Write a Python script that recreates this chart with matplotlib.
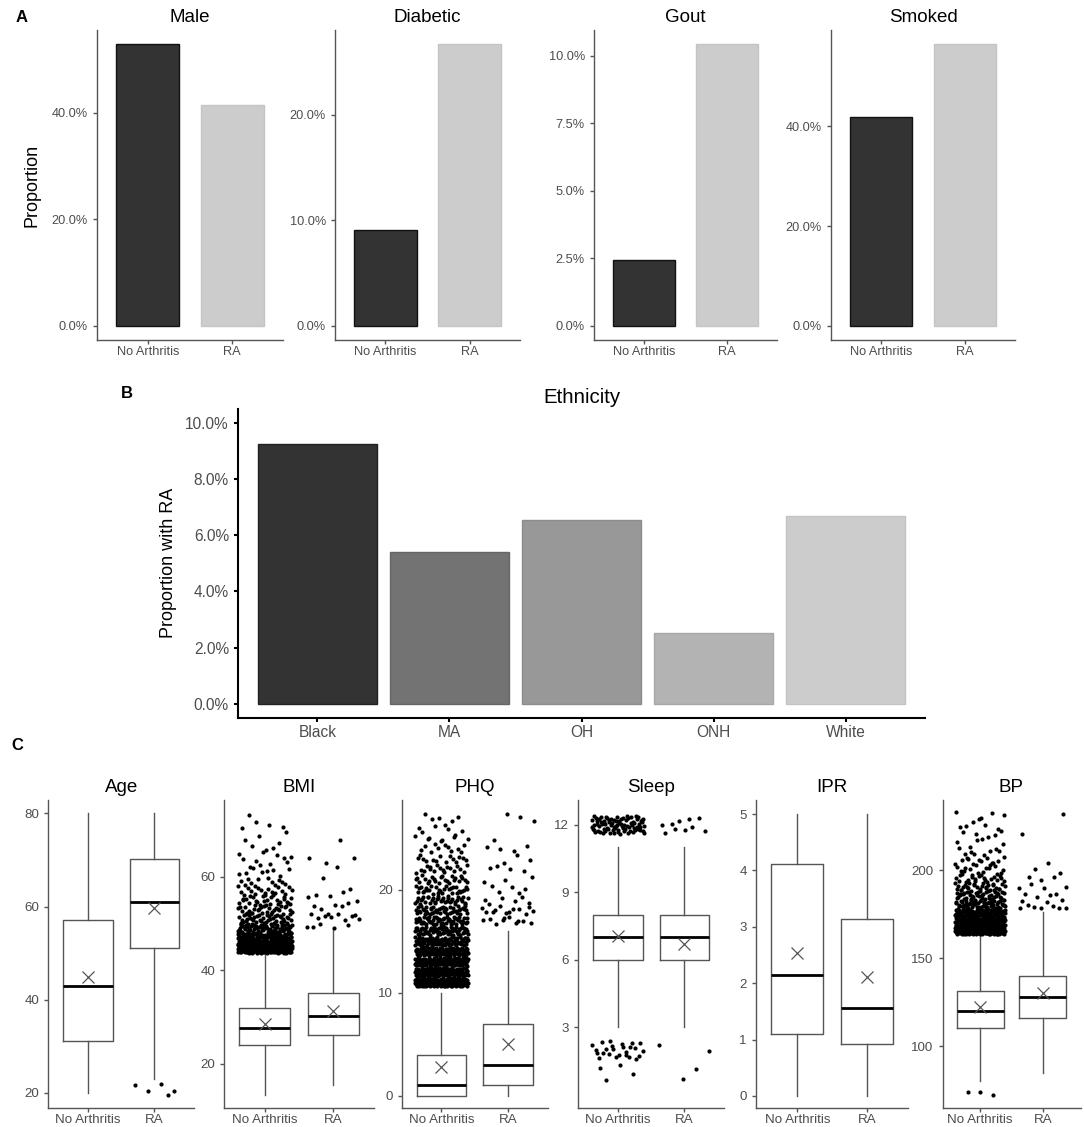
import numpy as np
import matplotlib
matplotlib.use("Agg")
from matplotlib import pyplot as plt

plt.rcParams['font.family'] = ['Liberation Sans', 'DejaVu Sans']

# ---- data: panel A (percent) ----
groups = ["No Arthritis", "RA"]
a_titles = ["Male", "Diabetic", "Gout", "Smoked"]
male = [52.9, 41.5]
diabetic = [9.07, 26.7]
gout = [2.45, 10.43]
smoked = [41.8, 56.5]
a_ticks = [[0, 20, 40], [0, 10, 20], [0, 2.5, 5, 7.5, 10], [0, 20, 40]]

# ---- data: panel B ----
ethnicity = ["Black", "MA", "OH", "ONH", "White"]
prop_ra = [9.24, 5.40, 6.53, 2.52, 6.68]

# ---- data: panel C box summaries (whislo, q1, med, q3, whishi, mean) ----
c_titles = ["Age", "BMI", "PHQ", "Sleep", "IPR", "BP"]
age_na = [20, 31.1, 43.0, 57.1, 80, 44.8]
age_ra = [23, 51.0, 61.0, 70.2, 80, 59.6]
bmi_na = [13.4, 24.1, 27.6, 31.9, 43.6, 28.6]
bmi_ra = [15.4, 26.1, 30.2, 35.1, 48.6, 31.3]
phq_na = [0, 0, 1, 4, 10, 2.8]
phq_ra = [0, 1, 3, 7, 16, 5.0]
sleep_na = [3, 6, 7, 8, 11, 7.04]
sleep_ra = [3, 6, 7, 8, 11, 6.71]
ipr_na = [0, 1.10, 2.14, 4.12, 5, 2.54]
ipr_ra = [0, 0.92, 1.56, 3.14, 5, 2.11]
bp_na = [80.3, 110.1, 120.1, 131.4, 163.3, 122.3]
bp_ra = [84.5, 116.1, 128.0, 140.0, 176.0, 129.9]

# outliers
age_ra_out = [19.5, 21.6, 21.9, 20.3, 20.3]
bmi_na_out_edges = [43.7, 46, 48, 50, 52, 54, 56, 58, 60, 62, 64, 66, 68, 70, 72, 74]
bmi_na_out_counts = [200, 120, 70, 40, 30, 25, 18, 12, 8, 7, 5, 4, 2, 4, 1]
bmi_ra_out = [67.8, 62.9, 63.9, 63.9, 62.0, 59.7, 57.3, 56.2, 56.8, 55.9, 54.9, 55.7,
              54.0, 53.2, 54.4, 53.8, 53.8, 52.0, 51.8, 52.0, 52.0, 51.6, 51.6, 51.1,
              50.7, 51.3, 50.9, 49.3, 49.1, 50.0, 49.7, 49.2]
phq_na_levels = list(range(11, 28))
phq_na_counts = [150, 130, 115, 100, 85, 70, 55, 45, 38, 30, 24, 18, 14, 11, 8, 6, 5]
phq_ra_levels = list(range(17, 28))
phq_ra_counts = [10, 12, 6, 5, 3, 4, 3, 4, 1, 0, 3]
sleep_levels = [1, 2, 12]
sleep_na_counts = [4, 25, 85]
sleep_ra_counts = [2, 2, 10]
bp_na_out_edges = [163.5, 168, 173, 178, 183, 188, 193, 198, 203, 208, 213, 218, 223, 228, 234]
bp_na_out_counts = [170, 130, 90, 55, 40, 30, 22, 14, 12, 8, 5, 5, 5, 5]
bp_na_low = [74.0, 74.0, 72.2]
bp_ra_out = [231.6, 220.3, 204.2, 200.4, 198.5, 196.2, 195.8, 194.3, 190.5, 189.9, 189.9,
             192.0, 186.4, 186.4, 185.8, 184.5, 183.0, 182.6, 182.0, 179.1, 178.2, 180.1,
             179.5, 178.2, 178.2, 178.2]

W, H = 1084, 1127
fig = plt.figure(figsize=(W / 100, H / 100), dpi=100)

AXGREY = '#555555'
TXTGREY = '#4D4D4D'


def px_axes(left, top, right, bottom):
    return fig.add_axes([left / W, 1 - bottom / H, (right - left) / W, (bottom - top) / H])


def style(ax, color=AXGREY, lw=1.0, size=9, xpad=3.0):
    for s in ['top', 'right']:
        ax.spines[s].set_visible(False)
    for s in ['left', 'bottom']:
        ax.spines[s].set_color(color)
        ax.spines[s].set_linewidth(lw)
    ax.tick_params(colors=color, labelcolor=TXTGREY, labelsize=size, length=3, width=lw)
    ax.tick_params(axis='x', pad=xpad)


def pct(v):
    return "{:.1f}%".format(v)


# ---------------- panel A ----------------
a_vals = [male, diabetic, gout, smoked]
a_boxes = [(97, 30, 283, 340), (335, 30, 520, 340), (594, 30, 777, 340), (831, 30, 1015, 340)]
for i, (vals, box) in enumerate(zip(a_vals, a_boxes)):
    ax = px_axes(*box)
    ax.bar([1, 2], vals, width=0.74, color=['#333333', '#CCCCCC'],
           edgecolor=['#111111', '#C4C4C4'], linewidth=1.0)
    m = max(vals)
    ax.set_ylim(-0.05 * m, 1.05 * m)
    ax.set_xlim(0.4, 2.6)
    ax.set_xticks([1, 2])
    ax.set_xticklabels(groups)
    ax.set_yticks(a_ticks[i])
    ax.set_yticklabels([pct(t) for t in a_ticks[i]])
    style(ax, size=9.2, xpad=1.5)
    ax.set_title(a_titles[i], fontsize=13.5, pad=6)
    if i == 0:
        ax.set_ylabel("Proportion", fontsize=13, labelpad=8)

fig.text(22 / W, 1 - 17 / H, "A", fontsize=12, fontweight='bold', ha='center', va='center')

# ---------------- panel B ----------------
ax = px_axes(238, 409, 925, 717.7)
fills = ['#333333', '#737373', '#989898', '#B3B3B3', '#CCCCCC']
edges = ['#222222', '#666666', '#8C8C8C', '#A8A8A8', '#C2C2C2']
xb = np.arange(1, len(ethnicity) + 1)
ax.bar(xb, prop_ra, width=0.9, color=fills, edgecolor=edges, linewidth=1.0)
ax.set_xlim(0.4, len(ethnicity) + 0.6)
ax.set_ylim(-0.5, 10.5)
ax.set_xticks(xb)
ax.set_xticklabels(ethnicity)
ax.set_yticks(np.arange(0, 11, 2))
ax.set_yticklabels([pct(t) for t in np.arange(0, 11, 2)])
style(ax, color='black', lw=1.5, size=11.2, xpad=2.5)
ax.set_title("Ethnicity", fontsize=14.8, pad=4)
ax.set_ylabel("Proportion with RA", fontsize=13, labelpad=6)
fig.text(127 / W, 1 - 394 / H, "B", fontsize=12, fontweight='bold', ha='center', va='center')

# ---------------- panel C ----------------


def halton(n, base, start):
    out = np.zeros(n)
    for j in range(n):
        k = j + start
        f, r = 1.0, 0.0
        while k > 0:
            f /= base
            r += f * (k % base)
            k //= base
        out[j] = r
    return out


def jit(n, start):
    return halton(n, 2, start), halton(n, 3, start)


def dots(ax, pos, y, start):
    u, _ = jit(len(y), start)
    ax.scatter(pos + (u - 0.5) * 0.8, y, s=9, color='black', linewidths=0, zorder=4)


def level_dots(ax, pos, levels, counts, start):
    y = np.repeat(levels, counts).astype(float)
    u, v = jit(len(y), start)
    ax.scatter(pos + (u - 0.5) * 0.8, y + (v - 0.5) * 0.8, s=9, color='black',
               linewidths=0, zorder=4)


def bin_dots(ax, pos, edges_, counts, start):
    lo = np.repeat(edges_[:-1], counts)
    hi = np.repeat(edges_[1:], counts)
    u, v = jit(len(lo), start)
    ax.scatter(pos + (u - 0.5) * 0.8, lo + v * (hi - lo), s=9, color='black',
               linewidths=0, zorder=4)


def stats(s, label):
    return dict(whislo=s[0], q1=s[1], med=s[2], q3=s[3], whishi=s[4], mean=s[5],
                label=label, fliers=[])


c_data = [(age_na, age_ra), (bmi_na, bmi_ra), (phq_na, phq_ra),
          (sleep_na, sleep_ra), (ipr_na, ipr_ra), (bp_na, bp_ra)]
c_left = [48.3, 224, 401.7, 578.3, 755.7, 942.5]
c_width = [145.9, 150, 145.9, 145.9, 152.7, 138]
c_ylim = [(16.65, 82.9), (10.5, 76.4), (-1.22, 28.7), (-0.6, 13.1), (-0.22, 5.25), (64.6, 239.8)]
c_ticks = [[20, 40, 60, 80], [20, 40, 60], [0, 10, 20], [3, 6, 9, 12], [0, 1, 2, 3, 4, 5],
           [100, 150, 200]]

c_axes = []
for i, (na, ra) in enumerate(c_data):
    ax = px_axes(c_left[i], 800, c_left[i] + c_width[i], 1108.3)
    ax.bxp([stats(na, groups[0]), stats(ra, groups[1])], positions=[1, 2], widths=0.75,
           showfliers=False, showcaps=False, showmeans=True,
           boxprops=dict(color=AXGREY, linewidth=1.0),
           whiskerprops=dict(color=AXGREY, linewidth=1.0),
           medianprops=dict(color='black', linewidth=2.0),
           meanprops=dict(marker='x', markeredgecolor=AXGREY, markersize=8,
                          markeredgewidth=0.9, linestyle='none'))
    ax.set_xlim(0.4, 2.6)
    ax.set_ylim(*c_ylim[i])
    ax.set_yticks(c_ticks[i])
    ax.set_xticks([1, 2])
    ax.set_xticklabels(groups)
    style(ax, size=9.6, xpad=0.8)
    ax.set_title(c_titles[i], fontsize=13.5, pad=6)
    c_axes.append(ax)

dots(c_axes[0], 2, age_ra_out, 3)
bin_dots(c_axes[1], 1, bmi_na_out_edges, bmi_na_out_counts, 11)
dots(c_axes[1], 2, bmi_ra_out, 5)
level_dots(c_axes[2], 1, phq_na_levels, phq_na_counts, 7)
level_dots(c_axes[2], 2, phq_ra_levels, phq_ra_counts, 13)
level_dots(c_axes[3], 1, sleep_levels, sleep_na_counts, 17)
level_dots(c_axes[3], 2, sleep_levels, sleep_ra_counts, 29)
bin_dots(c_axes[5], 1, bp_na_out_edges, bp_na_out_counts, 19)
dots(c_axes[5], 1, bp_na_low, 1)
dots(c_axes[5], 2, bp_ra_out, 23)

fig.text(17 / W, 1 - 746 / H, "C", fontsize=12, fontweight='bold', ha='center', va='center')

fig.savefig("out.png", dpi=100, facecolor='white')
